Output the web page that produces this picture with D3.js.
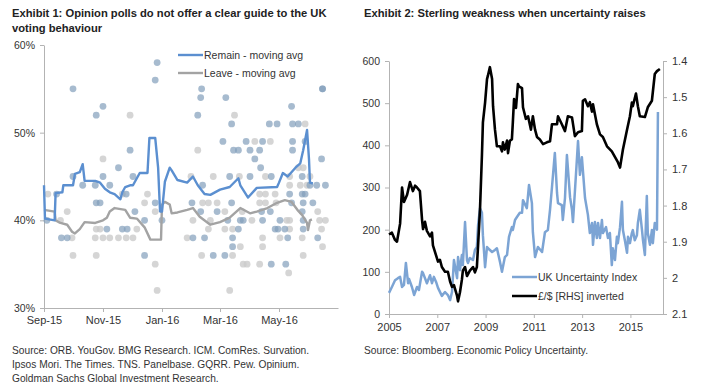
<!DOCTYPE html>
<html>
<head>
<meta charset="utf-8">
<script src="https://cdn.jsdelivr.net/npm/d3@7"></script>
<style>
  body { margin: 0; background: #fff; }
  svg { font-family: "Liberation Sans", Arial, sans-serif; }
</style>
</head>
<body>
<div id="chart"></div>
<script>
// ---- Exhibit 1 data: poll averages and individual polls ----
const remainAvg = [
  ['2015-09-01', 44.0], ['2015-09-02', 40.2], ['2015-09-12', 40.0], ['2015-09-13', 43.1],
  ['2015-09-20', 43.2], ['2015-09-21', 44.0], ['2015-10-01', 44.0], ['2015-10-03', 45.3],
  ['2015-10-08', 45.5], ['2015-10-11', 46.4], ['2015-10-13', 44.5], ['2015-10-24', 44.5],
  ['2015-10-29', 44.3], ['2015-11-03', 43.6], ['2015-11-08', 43.2], ['2015-11-13', 43.0],
  ['2015-11-19', 42.4], ['2015-11-21', 43.2], ['2015-11-24', 43.8], ['2015-11-29', 44.0],
  ['2015-12-02', 44.0], ['2015-12-09', 45.4], ['2015-12-17', 45.4], ['2015-12-19', 49.4],
  ['2015-12-25', 49.4], ['2015-12-28', 46.0], ['2015-12-30', 41.0], ['2016-01-01', 41.0],
  ['2016-01-04', 44.4], ['2016-01-09', 46.0], ['2016-01-11', 45.7], ['2016-01-17', 44.6],
  ['2016-01-27', 44.3], ['2016-02-02', 45.0], ['2016-02-07', 44.0], ['2016-02-14', 43.0],
  ['2016-02-20', 42.9], ['2016-03-01', 43.5], ['2016-03-11', 43.8], ['2016-03-20', 44.8],
  ['2016-03-22', 44.0], ['2016-03-30', 42.6], ['2016-04-08', 43.7], ['2016-04-29', 43.8],
  ['2016-05-01', 44.3], ['2016-05-05', 45.4], ['2016-05-10', 45.0], ['2016-05-18', 46.0],
  ['2016-05-23', 46.5], ['2016-05-26', 48.0], ['2016-05-30', 50.3], ['2016-06-01', 47.0],
  ['2016-06-02', 44.3], ['2016-06-05', 44.2]
];
const leaveAvg = [
  ['2015-09-01', 41.2], ['2015-09-12', 41.0], ['2015-09-13', 40.0], ['2015-09-18', 39.7],
  ['2015-09-25', 39.5], ['2015-09-30', 38.7], ['2015-10-03', 38.5], ['2015-10-08', 39.0],
  ['2015-10-13', 39.8], ['2015-10-24', 39.7], ['2015-11-01', 40.0], ['2015-11-05', 40.3],
  ['2015-11-08', 41.0], ['2015-11-13', 41.4], ['2015-11-24', 41.2], ['2015-11-29', 40.3],
  ['2015-12-06', 40.2], ['2015-12-14', 39.2], ['2015-12-20', 37.8], ['2015-12-31', 37.8],
  ['2016-01-01', 41.8], ['2016-01-04', 42.1], ['2016-01-09', 41.8], ['2016-01-11', 40.8],
  ['2016-01-17', 40.9], ['2016-01-27', 41.2], ['2016-02-02', 41.4], ['2016-02-09', 40.4],
  ['2016-02-20', 39.5], ['2016-03-01', 39.8], ['2016-03-11', 40.3], ['2016-03-22', 41.4],
  ['2016-04-01', 40.8], ['2016-04-08', 41.0], ['2016-04-19', 41.4], ['2016-04-29', 42.0],
  ['2016-05-07', 42.3], ['2016-05-14', 42.1], ['2016-05-20', 41.2], ['2016-05-25', 40.6],
  ['2016-05-30', 39.7], ['2016-05-31', 38.9], ['2016-06-02', 40.0], ['2016-06-04', 40.1]
];
const remainPolls = [
  ['2015-10-01', 55], ['2015-10-25', 52], ['2015-11-01', 53], ['2015-11-29', 48], ['2015-11-17', 46],
  ['2015-10-01', 45], ['2015-11-01', 45], ['2015-12-02', 45], ['2015-10-11', 44], ['2015-10-24', 44],
  ['2015-11-08', 44], ['2015-09-14', 43], ['2015-11-25', 43], ['2015-12-25', 56], ['2015-12-27', 58],
  ['2016-02-11', 55], ['2016-02-10', 54], ['2016-03-07', 54], ['2016-02-07', 52], ['2016-03-13', 51],
  ['2016-04-21', 51], ['2016-04-29', 51], ['2016-05-15', 51], ['2016-05-21', 51], ['2016-05-14', 53],
  ['2016-06-15', 55], ['2016-06-15', 55], ['2016-03-04', 49], ['2016-03-28', 49], ['2016-04-14', 49],
  ['2016-05-15', 49], ['2016-05-28', 49], ['2016-03-15', 48], ['2016-03-20', 48], ['2016-04-01', 48],
  ['2016-04-11', 48], ['2016-05-15', 48], ['2016-04-06', 47], ['2016-06-14', 47], ['2016-04-12', 46],
  ['2016-03-11', 45], ['2016-04-01', 45], ['2016-04-23', 45], ['2016-05-25', 45], ['2016-02-12', 44],
  ['2016-06-02', 44], ['2016-06-09', 44], ['2016-06-18', 44], ['2016-05-12', 43], ['2016-05-25', 43],
  ['2016-05-28', 43], ['2015-10-25', 42], ['2015-10-29', 42], ['2015-12-04', 41], ['2015-12-25', 42],
  ['2015-09-04', 40], ['2015-12-14', 40], ['2016-01-01', 40], ['2015-11-05', 39], ['2015-11-21', 39],
  ['2015-11-26', 39], ['2015-09-19', 38], ['2015-09-25', 38], ['2015-12-14', 36], ['2016-02-01', 42],
  ['2016-03-13', 42], ['2016-05-14', 42], ['2016-05-26', 42], ['2016-06-05', 42], ['2016-02-10', 41],
  ['2016-02-27', 41], ['2016-04-13', 41], ['2016-04-22', 41], ['2016-05-25', 41], ['2016-03-09', 40],
  ['2016-03-22', 40], ['2016-03-25', 40], ['2016-04-14', 40], ['2016-05-02', 40], ['2016-05-26', 40],
  ['2016-03-20', 39], ['2016-04-27', 39], ['2016-04-30', 39], ['2016-05-07', 39], ['2016-05-26', 39],
  ['2016-02-02', 38], ['2016-02-14', 38], ['2016-03-14', 38], ['2016-05-10', 38], ['2016-06-10', 38],
  ['2016-03-14', 37], ['2016-02-23', 36], ['2016-03-06', 36], ['2016-04-23', 35], ['2016-05-08', 35]
];
const leavePolls = [
  ['2015-11-29', 52], ['2015-11-01', 47], ['2015-09-05', 43], ['2015-11-21', 43], ['2015-12-17', 43],
  ['2016-03-16', 52], ['2016-05-28', 51], ['2016-04-06', 49], ['2016-04-22', 49], ['2016-02-07', 48],
  ['2016-05-21', 46], ['2016-05-26', 46], ['2016-01-31', 45], ['2016-02-23', 45], ['2016-03-21', 45],
  ['2016-04-17', 45], ['2016-05-12', 45], ['2016-06-02', 45], ['2016-05-12', 44], ['2016-05-23', 44],
  ['2016-05-30', 44], ['2016-04-11', 43], ['2016-04-17', 43], ['2016-04-27', 43], ['2015-09-25', 41],
  ['2015-12-14', 42], ['2015-12-25', 41], ['2015-09-18', 40], ['2015-10-25', 39], ['2015-10-29', 39],
  ['2015-12-06', 39], ['2015-09-30', 38], ['2015-10-24', 38], ['2015-11-01', 38], ['2015-11-08', 38],
  ['2015-11-17', 38], ['2015-11-25', 38], ['2015-12-02', 38], ['2015-10-01', 36], ['2015-10-25', 36],
  ['2015-12-25', 35], ['2015-12-27', 32], ['2016-02-12', 42], ['2016-02-18', 42], ['2016-02-27', 42],
  ['2016-04-11', 42], ['2016-04-17', 42], ['2016-04-28', 42], ['2016-03-06', 41], ['2016-03-24', 41],
  ['2016-06-10', 41], ['2016-02-02', 40], ['2016-02-20', 40], ['2016-04-03', 40], ['2016-05-09', 40],
  ['2016-05-12', 40], ['2016-06-12', 40], ['2016-06-18', 40], ['2016-02-18', 39], ['2016-03-06', 39],
  ['2016-03-14', 39], ['2016-05-12', 39], ['2016-06-14', 39], ['2016-01-27', 38], ['2016-04-14', 38],
  ['2016-05-02', 38], ['2016-05-25', 38], ['2016-03-22', 37], ['2016-04-14', 37], ['2016-06-15', 37],
  ['2016-02-11', 36], ['2016-03-14', 36], ['2016-05-26', 36], ['2016-03-25', 35], ['2016-03-29', 35],
  ['2016-04-11', 35], ['2016-05-11', 34], ['2016-03-11', 32]
];
const pollTicks = ['2015-09-01', '2015-11-01', '2016-01-01', '2016-03-01', '2016-05-01'];
const pctTicks = [0.3, 0.4, 0.5, 0.6];

// ---- Exhibit 2 data: [decimal year, value] ----
const uncertainty = [
  [2005.00, 50], [2005.12, 64], [2005.25, 80], [2005.37, 85], [2005.46, 88], [2005.54, 64],
  [2005.62, 69], [2005.70, 121], [2005.79, 73], [2005.83, 83], [2005.95, 64], [2006.04, 45],
  [2006.16, 64], [2006.24, 57], [2006.37, 100], [2006.41, 97], [2006.57, 73], [2006.70, 92],
  [2006.78, 73], [2006.86, 88], [2006.95, 76], [2007.03, 62], [2007.19, 43], [2007.32, 52],
  [2007.44, 45], [2007.53, 33], [2007.61, 52], [2007.69, 128], [2007.82, 85], [2007.86, 135],
  [2007.94, 104], [2008.02, 140], [2008.06, 116], [2008.15, 218], [2008.23, 128], [2008.27, 121],
  [2008.35, 133], [2008.48, 128], [2008.56, 152], [2008.64, 159], [2008.69, 211], [2008.77, 251],
  [2008.85, 240], [2008.89, 187], [2008.98, 111], [2009.06, 159], [2009.10, 156], [2009.27, 147],
  [2009.39, 152], [2009.47, 156], [2009.60, 123], [2009.68, 100], [2009.80, 135], [2009.89, 140],
  [2009.97, 183], [2010.09, 206], [2010.13, 199], [2010.22, 223], [2010.30, 230], [2010.42, 240],
  [2010.51, 240], [2010.55, 270], [2010.71, 251], [2010.80, 306], [2010.92, 263], [2010.96, 194],
  [2011.05, 135], [2011.17, 159], [2011.34, 147], [2011.46, 194], [2011.58, 199], [2011.67, 247],
  [2011.75, 300], [2011.87, 382], [2011.96, 287], [2012.00, 263], [2012.16, 258], [2012.20, 223],
  [2012.29, 275], [2012.37, 377], [2012.50, 277], [2012.58, 247], [2012.62, 218], [2012.70, 290],
  [2012.83, 410], [2012.91, 330], [2012.99, 372], [2013.12, 275], [2013.24, 235], [2013.32, 192],
  [2013.41, 216], [2013.45, 164], [2013.53, 218], [2013.61, 180], [2013.66, 216], [2013.74, 180],
  [2013.82, 223], [2013.86, 192], [2013.99, 206], [2014.07, 180], [2014.15, 192], [2014.23, 116],
  [2014.27, 156], [2014.36, 128], [2014.44, 183], [2014.48, 168], [2014.57, 206], [2014.65, 266],
  [2014.69, 199], [2014.77, 175], [2014.86, 145], [2014.90, 183], [2014.98, 168], [2015.06, 192],
  [2015.10, 199], [2015.18, 175], [2015.27, 187], [2015.31, 216], [2015.39, 247], [2015.48, 199],
  [2015.52, 175], [2015.60, 140], [2015.68, 280], [2015.72, 192], [2015.81, 164], [2015.89, 199],
  [2015.93, 168], [2016.01, 216], [2016.10, 200], [2016.14, 479]
];
const gbpusd = [
  [2005.00, 1.880], [2005.12, 1.875], [2005.25, 1.895], [2005.33, 1.900], [2005.46, 1.850],
  [2005.54, 1.750], [2005.62, 1.790], [2005.75, 1.770], [2005.87, 1.735], [2005.99, 1.760],
  [2006.08, 1.745], [2006.16, 1.750], [2006.28, 1.760], [2006.37, 1.840], [2006.41, 1.865],
  [2006.49, 1.845], [2006.57, 1.870], [2006.70, 1.885], [2006.78, 1.875], [2006.82, 1.910],
  [2007.03, 1.955], [2007.11, 1.950], [2007.19, 1.970], [2007.32, 1.983], [2007.44, 1.983],
  [2007.53, 2.010], [2007.61, 2.025], [2007.69, 2.020], [2007.82, 2.050], [2007.86, 2.065],
  [2007.94, 2.040], [2008.02, 2.005], [2008.06, 1.980], [2008.15, 1.970], [2008.23, 1.995],
  [2008.35, 1.980], [2008.48, 1.970], [2008.56, 1.985], [2008.64, 1.970], [2008.69, 1.910],
  [2008.77, 1.810], [2008.85, 1.660], [2008.89, 1.570], [2008.98, 1.515], [2009.06, 1.450],
  [2009.10, 1.440], [2009.18, 1.417], [2009.27, 1.450], [2009.31, 1.525], [2009.39, 1.590],
  [2009.47, 1.636], [2009.60, 1.636], [2009.68, 1.650], [2009.72, 1.625], [2009.80, 1.645],
  [2009.89, 1.620], [2009.93, 1.655], [2010.01, 1.620], [2010.09, 1.617], [2010.13, 1.570],
  [2010.18, 1.505], [2010.26, 1.530], [2010.34, 1.464], [2010.38, 1.470], [2010.51, 1.475],
  [2010.55, 1.528], [2010.67, 1.560], [2010.76, 1.553], [2010.88, 1.590], [2010.96, 1.553],
  [2011.05, 1.590], [2011.13, 1.610], [2011.25, 1.617], [2011.38, 1.630], [2011.54, 1.625],
  [2011.67, 1.622], [2011.75, 1.575], [2011.96, 1.575], [2012.00, 1.553], [2012.16, 1.575],
  [2012.29, 1.594], [2012.41, 1.553], [2012.58, 1.556], [2012.70, 1.608], [2012.83, 1.597],
  [2012.99, 1.594], [2013.03, 1.510], [2013.12, 1.506], [2013.24, 1.525], [2013.32, 1.514],
  [2013.41, 1.540], [2013.45, 1.520], [2013.61, 1.575], [2013.74, 1.603], [2013.86, 1.610],
  [2014.03, 1.636], [2014.23, 1.650], [2014.48, 1.680], [2014.57, 1.695], [2014.69, 1.645],
  [2014.86, 1.590], [2014.98, 1.553], [2015.06, 1.515], [2015.10, 1.525], [2015.23, 1.490],
  [2015.31, 1.525], [2015.39, 1.553], [2015.60, 1.555], [2015.72, 1.528], [2015.89, 1.510],
  [2016.01, 1.436], [2016.10, 1.428], [2016.22, 1.422]
];
const yearTicks = [2005, 2007, 2009, 2011, 2013, 2015];
const leftTicks = [0, 100, 200, 300, 400, 500, 600];
const rightTicks = [1.4, 1.5, 1.6, 1.7, 1.8, 1.9, 2, 2.1];

const textColor = '#333';
const axisColor = '#b3b3b3';
const parse = d3.timeParse('%Y-%m-%d');

const svg = d3.select('#chart').append('svg')
  .attr('width', 701)
  .attr('height', 384);

function styleAxis(g, size) {
  g.select('.domain').attr('stroke', axisColor);
  g.selectAll('.tick line').attr('stroke', axisColor);
  g.selectAll('.tick text').attr('fill', textColor).style('font-size', size || '10.5px');
}

// ---------------- Exhibit 1 ----------------
const x1 = d3.scaleTime()
  .domain([parse('2015-09-01'), parse('2016-07-01')])
  .range([44, 338]);
const y1 = d3.scaleLinear().domain([0.3, 0.6]).range([308, 45]);

svg.append('g')
  .attr('transform', 'translate(0,308)')
  .call(d3.axisBottom(x1).tickValues(pollTicks.map(parse))
    .tickFormat(d3.timeFormat('%b-%y')).tickSize(4).tickSizeOuter(0).tickPadding(4))
  .call(g => styleAxis(g, '11px'));

svg.append('g')
  .attr('transform', 'translate(44,0)')
  .call(d3.axisLeft(y1).tickValues(pctTicks).tickFormat(d3.format('.0%'))
    .tickSize(4).tickSizeOuter(0).tickPadding(5))
  .call(g => styleAxis(g, '10.5px'));

// polls
svg.append('g').selectAll('circle')
  .data(leavePolls)
  .join('circle')
    .attr('cx', d => x1(parse(d[0])))
    .attr('cy', d => y1(d[1] / 100))
    .attr('r', 3.4)
    .attr('fill', '#cacaca')
    .attr('fill-opacity', 0.8);

svg.append('g').selectAll('circle')
  .data(remainPolls)
  .join('circle')
    .attr('cx', d => x1(parse(d[0])))
    .attr('cy', d => y1(d[1] / 100))
    .attr('r', 3.4)
    .attr('fill', '#819eba')
    .attr('fill-opacity', 0.7);

const line1 = d3.line()
  .x(d => x1(parse(d[0])))
  .y(d => y1(d[1] / 100));

svg.append('path')
  .datum(leaveAvg)
  .attr('d', line1)
  .attr('fill', 'none')
  .attr('stroke', '#a3a3a3')
  .attr('stroke-width', 2.4)
  .attr('stroke-linejoin', 'round');

svg.append('path')
  .datum(remainAvg)
  .attr('d', line1)
  .attr('fill', 'none')
  .attr('stroke', '#5b8fd0')
  .attr('stroke-width', 2.4)
  .attr('stroke-linejoin', 'round');

// legend 1
const leg1 = [['Remain - moving avg', '#5b8fd0'], ['Leave - moving avg', '#a3a3a3']];
leg1.forEach((d, i) => {
  const yy = 55 + i * 18;
  svg.append('line')
    .attr('x1', 178).attr('x2', 203).attr('y1', yy).attr('y2', yy)
    .attr('stroke', d[1]).attr('stroke-width', 2.4);
  svg.append('text')
    .attr('x', 204).attr('y', yy + 4)
    .attr('fill', textColor).style('font-size', '10.5px')
    .text(d[0]);
});

// ---------------- Exhibit 2 ----------------
const x2 = d3.scaleLinear().domain([2005, 2016.35]).range([389, 663]);
const y2L = d3.scaleLinear().domain([0, 600]).range([314, 61]);
const y2R = d3.scaleLinear().domain([1.4, 2.1]).range([61, 314]);

svg.append('g')
  .attr('transform', 'translate(0,314)')
  .call(d3.axisBottom(x2).tickValues(yearTicks).tickFormat(d3.format('d'))
    .tickSize(4).tickSizeOuter(0).tickPadding(5))
  .call(g => styleAxis(g, '11px'));

svg.append('g')
  .attr('transform', 'translate(389,0)')
  .call(d3.axisLeft(y2L).tickValues(leftTicks).tickSize(4).tickSizeOuter(0).tickPadding(5))
  .call(g => styleAxis(g, '10.5px'));

svg.append('g')
  .attr('transform', 'translate(663,0)')
  .call(d3.axisRight(y2R).tickValues(rightTicks).tickFormat(d => String(d))
    .tickSize(4).tickSizeOuter(0).tickPadding(5))
  .call(g => styleAxis(g, '11px'));

svg.append('path')
  .datum(uncertainty)
  .attr('d', d3.line().x(d => x2(d[0])).y(d => y2L(d[1])))
  .attr('fill', 'none')
  .attr('stroke', '#7ca4d4')
  .attr('stroke-width', 2.5)
  .attr('stroke-linejoin', 'round');

svg.append('path')
  .datum(gbpusd)
  .attr('d', d3.line().x(d => x2(d[0])).y(d => y2R(d[1])))
  .attr('fill', 'none')
  .attr('stroke', '#000')
  .attr('stroke-width', 2.6)
  .attr('stroke-linejoin', 'round');

// legend 2
const leg2 = [['UK Uncertainty Index', '#7ca4d4'], ['£/$ [RHS] inverted', '#000']];
leg2.forEach((d, i) => {
  const yy = 277 + i * 19;
  svg.append('line')
    .attr('x1', 512).attr('x2', 537).attr('y1', yy).attr('y2', yy)
    .attr('stroke', d[1]).attr('stroke-width', 2.5);
  svg.append('text')
    .attr('x', 538).attr('y', yy + 4)
    .attr('fill', textColor).style('font-size', '10.5px')
    .text(d[0]);
});

// ---------------- Titles and sources ----------------
const titles = [
  [12, 17, 'Exhibit 1: Opinion polls do not offer a clear guide to the UK'],
  [12, 32, 'voting behaviour'],
  [364, 17, 'Exhibit 2: Sterling weakness when uncertainty raises']
];
titles.forEach(t => {
  svg.append('text')
    .attr('x', t[0]).attr('y', t[1])
    .attr('fill', '#222')
    .style('font-size', '11.2px').style('font-weight', 'bold')
    .text(t[2]);
});

const sources = [
  [12, 354, 'Source: ORB. YouGov. BMG Research. ICM. ComRes. Survation.'],
  [12, 368, 'Ipsos Mori. The Times. TNS. Panelbase. GQRR. Pew. Opinium.'],
  [12, 382, 'Goldman Sachs Global Investment Research.'],
  [364, 354, 'Source: Bloomberg. Economic Policy Uncertainty.']
];
sources.forEach(s => {
  svg.append('text')
    .attr('x', s[0]).attr('y', s[1])
    .attr('fill', textColor)
    .style('font-size', '10.2px')
    .text(s[2]);
});
</script>
</body>
</html>
